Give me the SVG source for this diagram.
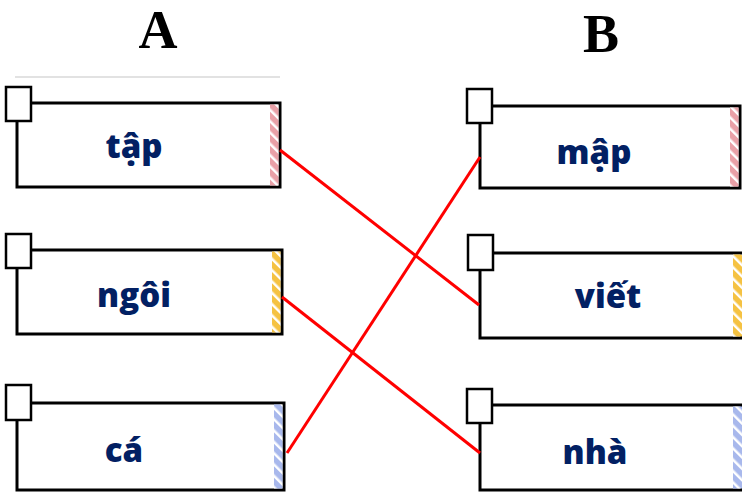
<svg xmlns="http://www.w3.org/2000/svg" width="742" height="496" viewBox="0 0 742 496">
<style>
.box{fill:#fff;stroke:#000;stroke-width:3}
.sq{fill:#fff;stroke:#000;stroke-width:2.5}
.lbl{font-family:"Open Sans","Noto Sans",sans-serif;font-weight:800;font-size:33px;fill:#022063;text-anchor:middle}
.hd{font-family:"Liberation Serif",serif;font-weight:bold;font-size:54px;fill:#000;text-anchor:middle}
.con{stroke:#f00;stroke-width:3;fill:none}
</style>
<defs>
<pattern id="pink" width="8" height="8" patternUnits="userSpaceOnUse" patternTransform="rotate(-45)"><rect width="8" height="8" fill="#e9a0a7"/><rect width="2.5" height="8" fill="#fff"/></pattern>
<pattern id="yel" width="8" height="8" patternUnits="userSpaceOnUse" patternTransform="rotate(-45)"><rect width="8" height="8" fill="#f5c242"/><rect width="2.5" height="8" fill="#fff"/></pattern>
<pattern id="blu" width="8" height="8" patternUnits="userSpaceOnUse" patternTransform="rotate(-45)"><rect width="8" height="8" fill="#a8b8ec"/><rect width="2.5" height="8" fill="#fff"/></pattern>
</defs>
<text class="hd" x="158" y="48">A</text>
<text class="hd" x="601" y="52">B</text>
<line x1="15" y1="77" x2="280" y2="77" stroke="#d9d9d9" stroke-width="1.5"/>
<g id="a1">
<rect class="box" x="17" y="103" width="263" height="84"/>
<rect x="270" y="104.5" width="8.5" height="81" fill="url(#pink)"/>
<rect class="sq" x="6" y="87" width="25" height="34"/>
<text class="lbl" x="134" y="158">tập</text>
</g>
<g id="a2">
<rect class="box" x="17" y="250" width="265" height="84"/>
<rect x="272" y="251.5" width="8.5" height="81" fill="url(#yel)"/>
<rect class="sq" x="6" y="234" width="25" height="34"/>
<text class="lbl" x="134" y="307">ngôi</text>
</g>
<g id="a3">
<rect class="box" x="17" y="403" width="267" height="87"/>
<rect x="274" y="404.5" width="8.5" height="84" fill="url(#blu)"/>
<rect class="sq" x="6" y="385" width="25" height="35"/>
<text class="lbl" x="124" y="462">cá</text>
</g>
<g id="b1">
<rect class="box" x="480" y="106" width="260" height="82"/>
<rect x="730" y="107.5" width="8.5" height="79" fill="url(#pink)"/>
<rect class="sq" x="467" y="89" width="25" height="34"/>
<text class="lbl" x="594" y="164">mập</text>
</g>
<g id="b2">
<rect class="box" x="480" y="253" width="262" height="85"/>
<rect x="733" y="254.5" width="9" height="82" fill="url(#yel)"/>
<rect class="sq" x="468" y="235" width="25" height="35"/>
<text class="lbl" x="608" y="308">viết</text>
</g>
<g id="b3">
<rect class="box" x="480" y="405" width="262" height="85"/>
<rect x="733" y="406.5" width="9" height="82" fill="url(#blu)"/>
<rect class="sq" x="467" y="389" width="25" height="34"/>
<text class="lbl" x="595" y="464">nhà</text>
</g>
<g id="connectors">
<line class="con" x1="280" y1="150" x2="479" y2="305"/>
<line class="con" x1="282" y1="297" x2="480" y2="453"/>
<line class="con" x1="287" y1="453" x2="480" y2="157"/>
</g>
</svg>
